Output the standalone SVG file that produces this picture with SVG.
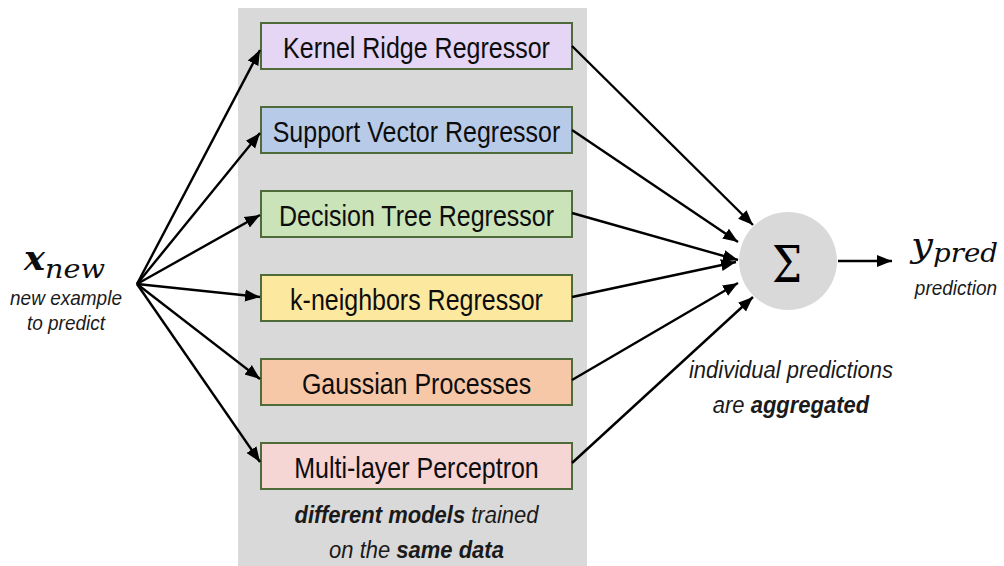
<svg xmlns="http://www.w3.org/2000/svg" width="1004" height="566" viewBox="0 0 1004 566">
  <defs>
    <marker id="head" markerUnits="userSpaceOnUse" markerWidth="16" markerHeight="14" refX="15" refY="7" orient="auto">
      <path d="M0,1 L15,7 L0,13 Z" fill="#000"/>
    </marker>
    <style>
      .panel { fill: #d9d9d9; }
      .box { stroke: #4f6b3a; stroke-width: 2; }
      .lbl { font-family: "Liberation Sans", Arial, sans-serif; font-size: 25px; fill: #0d0d0d; text-anchor: middle; }
      .note { font-family: "Liberation Sans", Arial, sans-serif; font-style: italic; fill: #1a1a1a; text-anchor: middle; }
      .math { font-family: "DejaVu Serif", "Liberation Serif", serif; font-style: italic; fill: #0d0d0d; }
      .edge { stroke: #000; stroke-width: 2.4; fill: none; marker-end: url(#head); }
    </style>
  </defs>

  <rect width="1004" height="566" fill="#fff"/>

  <!-- shared background panel behind the model boxes -->
  <rect class="panel" x="238" y="8" width="349" height="560"/>

  <!-- input -->
  <g id="input">
    <text class="math" x="24" y="270" font-size="34" font-weight="bold" textLength="21" lengthAdjust="spacingAndGlyphs">x</text>
    <text class="math" x="45" y="278" font-size="26" textLength="60" lengthAdjust="spacingAndGlyphs">new</text>
    <text class="note" font-size="19" transform="translate(66,305) scale(1,1.1)">new example</text>
    <text class="note" font-size="19" transform="translate(66,330) scale(1,1.1)">to predict</text>
  </g>

  <!-- models -->
  <g id="kernel-ridge">
    <rect class="box" x="261" y="23" width="311" height="46" fill="#e4d6f4"/>
    <text class="lbl" transform="translate(416.5,58) scale(1,1.15)">Kernel Ridge Regressor</text>
  </g>
  <g id="svr">
    <rect class="box" x="261" y="107" width="311" height="46" fill="#b7cbe8"/>
    <text class="lbl" transform="translate(416.5,142) scale(1,1.15)">Support Vector Regressor</text>
  </g>
  <g id="decision-tree">
    <rect class="box" x="261" y="191" width="311" height="46" fill="#cae3b9"/>
    <text class="lbl" transform="translate(416.5,226) scale(1,1.15)">Decision Tree Regressor</text>
  </g>
  <g id="knn">
    <rect class="box" x="261" y="275" width="311" height="46" fill="#fde8a0"/>
    <text class="lbl" transform="translate(416.5,310) scale(1,1.15)">k-neighbors Regressor</text>
  </g>
  <g id="gaussian-process">
    <rect class="box" x="261" y="359" width="311" height="46" fill="#f7c8a8"/>
    <text class="lbl" transform="translate(416.5,394) scale(1,1.15)">Gaussian Processes</text>
  </g>
  <g id="mlp">
    <rect class="box" x="261" y="443" width="311" height="46" fill="#f6d5d5"/>
    <text class="lbl" transform="translate(416.5,478) scale(1,1.15)">Multi-layer Perceptron</text>
  </g>

  <g id="panel-caption">
    <text class="note" font-size="22" transform="translate(416.5,523) scale(1,1.08)"><tspan font-weight="bold">different models</tspan> trained</text>
    <text class="note" font-size="22" transform="translate(416.5,558) scale(1,1.08)">on the <tspan font-weight="bold">same data</tspan></text>
  </g>

  <!-- aggregation -->
  <g id="sum">
    <circle cx="788" cy="261" r="49" fill="#d9d9d9"/>
    <text x="787" y="282" font-family="DejaVu Serif, Liberation Serif, serif" font-size="50" fill="#000" text-anchor="middle" textLength="30" lengthAdjust="spacingAndGlyphs">Σ</text>
  </g>

  <g id="sum-caption">
    <text class="note" font-size="22" transform="translate(791,378) scale(1,1.08)">individual predictions</text>
    <text class="note" font-size="22" transform="translate(791,413) scale(1,1.08)">are <tspan font-weight="bold">aggregated</tspan></text>
  </g>

  <!-- output -->
  <g id="output">
    <text class="math" x="911" y="257" font-size="34" textLength="22" lengthAdjust="spacingAndGlyphs">y</text>
    <text class="math" x="933" y="262" font-size="26" textLength="65" lengthAdjust="spacingAndGlyphs">pred</text>
    <text class="note" font-size="19" transform="translate(956,295) scale(1,1.1)">prediction</text>
  </g>

  <!-- connectors -->
  <g id="connectors">
    <line class="edge" x1="137" y1="284" x2="260" y2="50"/>
    <line class="edge" x1="137" y1="284" x2="260" y2="133"/>
    <line class="edge" x1="137" y1="284" x2="260" y2="215"/>
    <line class="edge" x1="137" y1="284" x2="260" y2="297"/>
    <line class="edge" x1="137" y1="284" x2="260" y2="379"/>
    <line class="edge" x1="137" y1="284" x2="260" y2="462"/>

    <line class="edge" x1="572" y1="46" x2="753" y2="225"/>
    <line class="edge" x1="572" y1="130" x2="738" y2="242"/>
    <line class="edge" x1="572" y1="213" x2="738" y2="260"/>
    <line class="edge" x1="572" y1="297" x2="736" y2="262"/>
    <line class="edge" x1="572" y1="380" x2="738" y2="283"/>
    <line class="edge" x1="572" y1="463" x2="753" y2="297"/>

    <line class="edge" x1="838" y1="261" x2="892" y2="261"/>
  </g>
</svg>
